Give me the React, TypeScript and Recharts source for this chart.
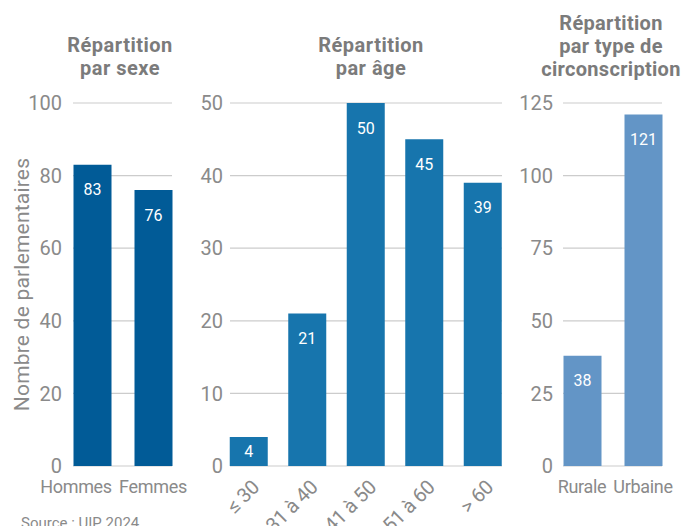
import React from 'react';
import { BarChart, Bar, XAxis, YAxis, CartesianGrid, LabelList } from 'recharts';

const sexCategories = ['Hommes', 'Femmes'];
const sexValues = [83, 76];
const sexTicks = [0, 20, 40, 60, 80, 100];

const ageCategories = ['≤ 30', '31 à 40', '41 à 50', '51 à 60', '> 60'];
const ageValues = [4, 21, 50, 45, 39];
const ageTicks = [0, 10, 20, 30, 40, 50];

const areaCategories = ['Rurale', 'Urbaine'];
const areaValues = [38, 121];
const areaTicks = [0, 25, 50, 75, 100, 125];

const FONT = "Roboto, 'Noto Sans', sans-serif";
const GREY = '#8a8a8a';
const TITLE_GREY = '#7b7b7b';
const GRID = '#cccccc';

const PLOT_TOP = 103;
const PLOT_BOTTOM = 466;
const HEIGHT = 526;
const BAR = 38;

const BarValue = (props: any) => {
  const { x, y, width, height, value } = props;
  const small = height < 50;
  const cy = small ? y + height / 2 : y + 25;
  return (
    <text
      x={x + width / 2}
      y={cy}
      dy="0.35em"
      textAnchor="middle"
      fill="#ffffff"
      fontSize={16}
      fontFamily={FONT}
    >
      {value}
    </text>
  );
};

const AngledTick = (props: any) => {
  const { x, y, payload } = props;
  return (
    <g transform={`translate(${x + 3},${y + 6})`}>
      <text
        x={0}
        y={0}
        dy={12}
        textAnchor="end"
        transform="rotate(-45)"
        fill={GREY}
        fontSize={20}
        letterSpacing={-0.3}
        fontFamily={FONT}
      >
        {payload.value}
      </text>
    </g>
  );
};

const makeFlatTick = (shifts: number[]) => (props: any) => {
  const { x, y, payload, index } = props;
  return (
    <text
      x={x + (shifts[index] || 0)}
      y={y + 6}
      dy="0.71em"
      textAnchor="middle"
      fill={GREY}
      fontSize={18}
      letterSpacing={-0.3}
      fontFamily={FONT}
    >
      {payload.value}
    </text>
  );
};

interface PanelProps {
  categories: string[];
  values: number[];
  ticks: number[];
  color: string;
  left: number;
  width: number;
  yWidth: number;
  rightMargin: number;
  tickGap: number;
  angled?: boolean;
  shifts?: number[];
  yLabel?: string;
}

function Panel({ categories, values, ticks, color, left, width, yWidth, rightMargin, tickGap, angled, shifts, yLabel }: PanelProps) {
  const data = categories.map((name, i) => ({ name, value: values[i] }));
  const plotW = width - yWidth - rightMargin;
  const n = categories.length;
  const gap = (plotW - n * BAR) / (n - 1);
  const FlatTick = makeFlatTick(shifts || []);
  return (
    <div style={{ position: 'absolute', left, top: 0 }}>
      <BarChart
        width={width}
        height={HEIGHT}
        data={data}
        margin={{ top: PLOT_TOP, right: rightMargin, bottom: 0, left: 0 }}
        barSize={BAR}
      >
        <CartesianGrid horizontal vertical={false} stroke={GRID} strokeWidth={1.2} />
        <XAxis
          dataKey="name"
          height={HEIGHT - PLOT_BOTTOM}
          padding={{ left: -gap / 2, right: -gap / 2 }}
          axisLine={false}
          tickLine={false}
          interval={0}
          tick={angled ? <AngledTick /> : <FlatTick />}
        />
        <YAxis
          width={yWidth}
          domain={[ticks[0], ticks[ticks.length - 1]]}
          ticks={ticks}
          axisLine={false}
          tickLine={false}
          tickSize={0}
          tickMargin={tickGap}
          tick={{ fill: GREY, fontSize: 20, fontFamily: FONT }}
          label={
            yLabel
              ? {
                  value: yLabel,
                  angle: -90,
                  position: 'insideLeft',
                  offset: 22,
                  style: { textAnchor: 'middle', fill: GREY, fontSize: 21, letterSpacing: 0.2, fontFamily: FONT },
                }
              : undefined
          }
        />
        <Bar dataKey="value" fill={color} isAnimationActive={false}>
          <LabelList dataKey="value" content={<BarValue />} />
        </Bar>
      </BarChart>
    </div>
  );
}

const titleStyle: React.CSSProperties = {
  position: 'absolute',
  width: 180,
  textAlign: 'center',
  fontFamily: FONT,
  fontWeight: 'bold',
  fontSize: 20,
  letterSpacing: 0.5,
  lineHeight: '23px',
  color: TITLE_GREY,
};

export default function App() {
  return (
    <div
      style={{
        position: 'absolute',
        left: 0,
        top: 0,
        width: 683,
        height: 526,
        overflow: 'hidden',
        background: '#ffffff',
        fontFamily: FONT,
      }}
    >
      <div style={{ ...titleStyle, left: 120 - 90, top: 34 }}>
        Répartition
        <br />
        par sexe
      </div>
      <div style={{ ...titleStyle, left: 371 - 90, top: 34 }}>
        Répartition
        <br />
        par âge
      </div>
      <div style={{ ...titleStyle, left: 611 - 90, top: 12, letterSpacing: 0.3 }}>
        Répartition
        <br />
        par type de
        <br />
        circonscription
      </div>

      <Panel
        categories={sexCategories}
        values={sexValues}
        ticks={sexTicks}
        color="#015b97"
        left={0}
        width={190}
        yWidth={73}
        rightMargin={18}
        tickGap={11}
        shifts={[-16, 0]}
        yLabel="Nombre de parlementaires"
      />
      <Panel
        categories={ageCategories}
        values={ageValues}
        ticks={ageTicks}
        color="#1775ad"
        left={190}
        width={330}
        yWidth={40}
        rightMargin={18}
        tickGap={7}
        angled
      />
      <Panel
        categories={areaCategories}
        values={areaValues}
        ticks={areaTicks}
        color="#6395c6"
        left={520}
        width={163}
        yWidth={43}
        rightMargin={21}
        tickGap={10}
      />

      <div
        style={{
          position: 'absolute',
          left: 21,
          top: 514,
          fontSize: 15,
          color: GREY,
          fontFamily: FONT,
        }}
      >
        Source : UIP 2024
      </div>
    </div>
  );
}
